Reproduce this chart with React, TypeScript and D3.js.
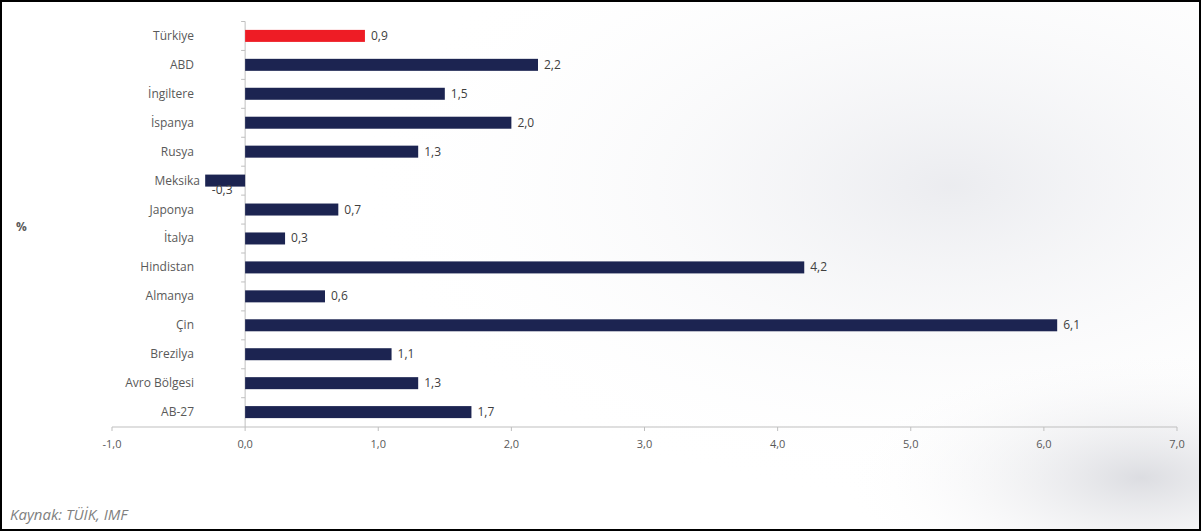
import React from 'react';
import * as d3 from 'd3';

const countries = ['Türkiye', 'ABD', 'İngiltere', 'İspanya', 'Rusya', 'Meksika', 'Japonya', 'İtalya', 'Hindistan', 'Almanya', 'Çin', 'Brezilya', 'Avro Bölgesi', 'AB-27'];
const growth = [0.9, 2.2, 1.5, 2.0, 1.3, -0.3, 0.7, 0.3, 4.2, 0.6, 6.1, 1.1, 1.3, 1.7];
const xTicks = [-1, 0, 1, 2, 3, 4, 5, 6, 7];

const W = 1201;
const H = 531;
const font = "'Open Sans', 'Noto Sans', sans-serif";
const fmt = (v: number) => v.toFixed(1).replace('.', ',');

export default function App() {
  const x = d3.scaleLinear().domain([-1, 7]).range([112, 1177]);
  const y = d3.scaleBand<string>().domain(countries).range([21.5, 426.5]).paddingInner(0.585).paddingOuter(0.29);
  const step = y.step();
  const axisY = 427;

  return (
    <svg width={W} height={H} style={{ position: 'absolute', left: 0, top: 0, background: '#fff' }}>
      <defs>
        <radialGradient id="bg1" cx="0.75" cy="0.35" r="0.6">
          <stop offset="0%" stopColor="#e9eaee" stopOpacity={0.9} />
          <stop offset="100%" stopColor="#ffffff" stopOpacity={0} />
        </radialGradient>
        <radialGradient id="bg2" cx="0.95" cy="0.9" r="0.25">
          <stop offset="0%" stopColor="#d8d9de" stopOpacity={0.9} />
          <stop offset="100%" stopColor="#ffffff" stopOpacity={0} />
        </radialGradient>
      </defs>
      <rect x={0} y={0} width={W} height={H} fill="#fff" />
      <rect x={200} y={0} width={W - 200} height={H} fill="url(#bg1)" />
      <rect x={0} y={0} width={W} height={H} fill="url(#bg2)" />

      {/* axes */}
      <line x1={x(-1)} x2={x(7)} y1={axisY} y2={axisY} stroke="#bfbfbf" strokeWidth={1} />
      {xTicks.map(t => (
        <g key={t}>
          <line x1={x(t)} x2={x(t)} y1={axisY} y2={axisY + 4} stroke="#bfbfbf" />
          <text x={x(t)} y={axisY + 21} textAnchor="middle" fontFamily={font} fontSize={11} fill="#595959">{fmt(t)}</text>
        </g>
      ))}
      <line x1={x(0)} x2={x(0)} y1={21.5} y2={axisY} stroke="#bfbfbf" />
      {countries.map((c, i) => (
        <line key={'t' + i} x1={x(0) - 4} x2={x(0)} y1={21.5 + i * step} y2={21.5 + i * step} stroke="#bfbfbf" />
      ))}

      {/* bars */}
      {countries.map((c, i) => {
        const v = growth[i];
        const yc = (y(c) ?? 0) + y.bandwidth() / 2;
        return (
          <g key={c}>
            <text x={v < 0 ? 200 : 194} y={yc + 4} textAnchor="end" fontFamily={font} fontSize={12} fill="#595959">{c}</text>
            <rect x={x(Math.min(0, v))} y={y(c)} width={Math.abs(x(v) - x(0))} height={y.bandwidth()} fill={i === 0 ? '#ee1c25' : '#1c2451'} />
            {v >= 0 ? (
              <text x={x(v) + 6} y={yc + 4} fontFamily={font} fontSize={12} fill="#404040">{fmt(v)}</text>
            ) : (
              <text x={x(v) + 17} y={yc + 13} textAnchor="middle" fontFamily={font} fontSize={12} fill="#404040">{fmt(v)}</text>
            )}
          </g>
        );
      })}

      <text x={16} y={231} fontFamily={font} fontSize={12} fontWeight="bold" fill="#595959">%</text>
      <text x={10} y={520} fontFamily={font} fontSize={15} fontStyle="italic" fill="#7f7f7f">Kaynak: TÜİK, IMF</text>
      <rect x={1} y={1} width={W - 2} height={H - 2} fill="none" stroke="#000" strokeWidth={2} />
    </svg>
  );
}
